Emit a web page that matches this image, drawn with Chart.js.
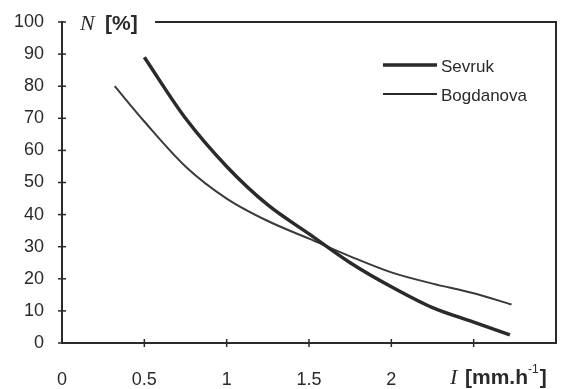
<!DOCTYPE html>
<html>
<head>
<meta charset="utf-8">
<script src="https://cdn.jsdelivr.net/npm/chart.js@4/dist/chart.umd.min.js"></script>
<style>
  html, body { margin: 0; padding: 0; background: #fff; }
  #wrap { width: 565px; height: 389px; }
</style>
</head>
<body>
<div id="wrap"><canvas id="chart" width="565" height="389"></canvas></div>
<script>
// values
const sevrukX = [0.5, 0.75, 1.0, 1.25, 1.5, 1.75, 2.0, 2.25, 2.5, 2.72];
const sevrukY = [89, 70, 55, 43, 34, 25, 17.5, 11, 6.5, 2.5];
const bogdanovaX = [0.32, 0.5, 0.75, 1.0, 1.25, 1.5, 1.75, 2.0, 2.25, 2.5, 2.73];
const bogdanovaY = [80, 69, 55, 45, 38, 32.5, 27, 22, 18.5, 15.5, 12];
const seriesNames = ['Sevruk', 'Bogdanova'];
const xTicks = [0, 0.5, 1, 1.5, 2];

const ink = '#2a2a2a';
const sans = '"Liberation Sans", Arial, sans-serif';
const serif = '"Liberation Serif", "Times New Roman", serif';

function toPoints(xs, ys) {
    return xs.map((x, i) => ({ x: x, y: ys[i] }));
}

// frame, tick marks, axis titles and legend
const decorations = {
    id: 'decorations',
    afterDraw(chart) {
        const ctx = chart.ctx;
        const a = chart.chartArea;
        const xs = chart.scales.x, ys = chart.scales.y;
        ctx.save();
        ctx.strokeStyle = ink;
        ctx.lineWidth = 2;
        // top border (broken by title) and right border
        ctx.beginPath();
        ctx.moveTo(155, a.top);
        ctx.lineTo(a.right, a.top);
        ctx.lineTo(a.right, a.bottom);
        ctx.stroke();
        // crossing tick marks
        ctx.lineWidth = 1.5;
        for (let v = 0; v <= 100; v += 10) {
            const y = ys.getPixelForValue(v);
            ctx.beginPath();
            ctx.moveTo(a.left - 4, y);
            ctx.lineTo(a.left + 4, y);
            ctx.stroke();
        }
        for (let v = 0.5; v <= 2.5; v += 0.5) {
            const x = xs.getPixelForValue(v);
            ctx.beginPath();
            ctx.moveTo(x, a.bottom - 4);
            ctx.lineTo(x, a.bottom + 4);
            ctx.stroke();
        }
        // axis titles
        ctx.fillStyle = ink;
        ctx.textBaseline = 'middle';
        ctx.textAlign = 'left';
        ctx.font = 'italic 22px ' + serif;
        ctx.fillText('N', 80, 24);
        ctx.font = 'bold 21px ' + sans;
        ctx.fillText('[%]', 105, 24);
        ctx.font = 'italic 22px ' + serif;
        ctx.fillText('I', 450, 378);
        ctx.font = 'bold 21px ' + sans;
        ctx.fillText('[mm.h', 465, 378);
        const w = ctx.measureText('[mm.h').width;
        ctx.font = '12px ' + sans;
        ctx.fillText('-1', 465 + w, 370);
        const w2 = ctx.measureText('-1').width;
        ctx.font = 'bold 21px ' + sans;
        ctx.fillText(']', 466 + w + w2, 378);
        // legend
        const rows = [{ y: 65, lw: 3.5 }, { y: 94, lw: 2 }];
        ctx.font = '17px ' + sans;
        rows.forEach((r, i) => {
            ctx.lineWidth = r.lw;
            ctx.beginPath();
            ctx.moveTo(383, r.y);
            ctx.lineTo(437, r.y);
            ctx.stroke();
            ctx.fillText(seriesNames[i], 441, r.y + 2);
        });
        ctx.restore();
    }
};

new Chart(document.getElementById('chart'), {
    type: 'scatter',
    data: {
        datasets: [{
            label: seriesNames[0],
            data: toPoints(sevrukX, sevrukY),
            showLine: true,
            borderColor: ink,
            borderWidth: 3.5,
            pointRadius: 0,
            cubicInterpolationMode: 'monotone'
        }, {
            label: seriesNames[1],
            data: toPoints(bogdanovaX, bogdanovaY),
            showLine: true,
            borderColor: '#3a3a3a',
            borderWidth: 2,
            pointRadius: 0,
            cubicInterpolationMode: 'monotone'
        }]
    },
    options: {
        responsive: false,
        animation: false,
        layout: { padding: { top: 22, right: 9, left: 0, bottom: 0 } },
        plugins: {
            legend: { display: false },
            tooltip: { enabled: false }
        },
        scales: {
            x: {
                type: 'linear',
                min: 0,
                max: 3,
                afterFit(s) { s.height = 46; s.paddingLeft = 0; s.paddingRight = 0; },
                afterBuildTicks(s) { s.ticks = xTicks.map(v => ({ value: v })); },
                grid: { display: false, drawTicks: false },
                border: { color: ink, width: 2 },
                ticks: {
                    padding: 26,
                    color: ink,
                    font: { family: sans, size: 18 },
                    callback: v => String(v)
                }
            },
            y: {
                min: 0,
                max: 100,
                afterFit(s) { s.width = 62; s.paddingTop = 0; s.paddingBottom = 0; },
                grid: { display: false, drawTicks: false },
                border: { color: ink, width: 2 },
                ticks: {
                    stepSize: 10,
                    padding: 18,
                    color: ink,
                    font: { family: sans, size: 18 }
                }
            }
        }
    },
    plugins: [decorations]
});
</script>
</body>
</html>
